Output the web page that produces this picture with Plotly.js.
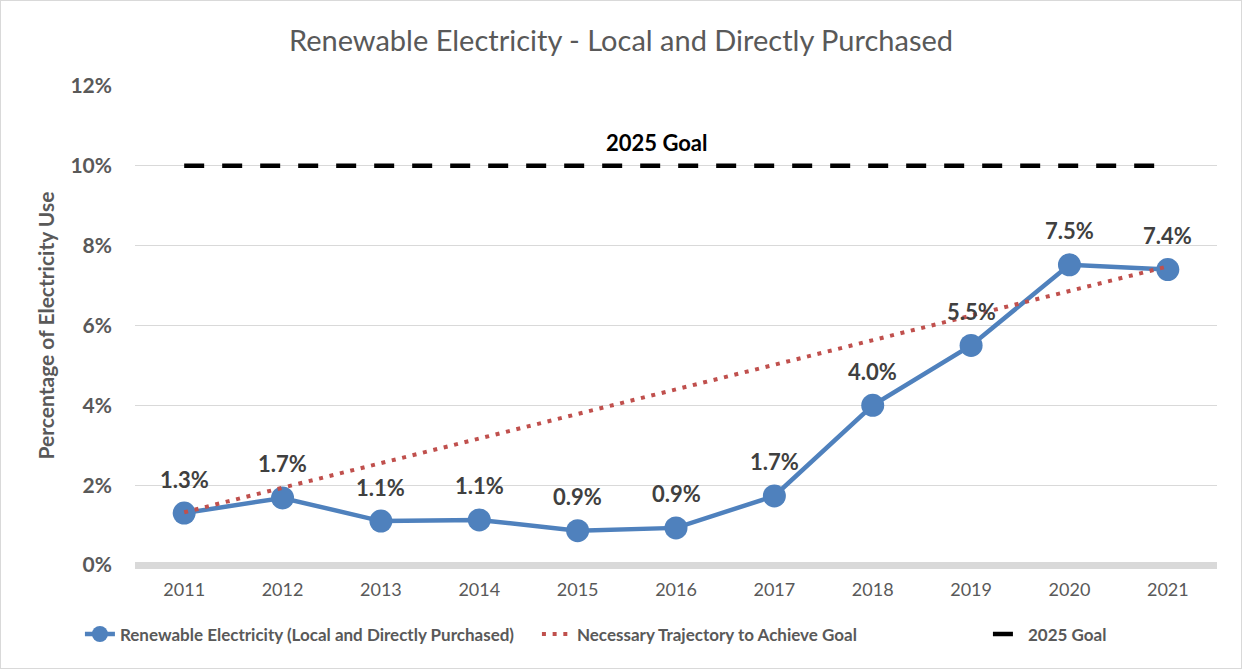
<!DOCTYPE html>
<html>
<head>
<meta charset="utf-8">
<script src="https://cdn.plot.ly/plotly-3.0.1.min.js"></script>
<style>
html,body{margin:0;padding:0;background:#fff;}
#chart{width:1240px;height:667px;border:1px solid #d9d9d9;}
</style>
</head>
<body>
<div id="chart"></div>
<script>
const years = ['2011','2012','2013','2014','2015','2016','2017','2018','2019','2020','2021'];
const renewable = [1.3, 1.68, 1.1, 1.13, 0.86, 0.93, 1.73, 4.0, 5.5, 7.52, 7.4];
const renewableLabels = ['1.3%','1.7%','1.1%','1.1%','0.9%','0.9%','1.7%','4.0%','5.5%','7.5%','7.4%'];
const trajectoryYears = ['2011','2021'];
const trajectory = [1.32, 7.48];
const goalYears = ['2011','2021'];
const goal = [10, 10];
const yTicks = [0,2,4,6,8,10,12];
const yTickLabels = ['0%','2%','4%','6%','8%','10%','12%'];

const FONT = 'Lato, "Open Sans", sans-serif';

const traces = [
  {
    x: years, y: renewable, type: 'scatter', mode: 'lines+markers',
    name: 'Renewable Electricity (Local and Directly Purchased)',
    line: {color: '#4f81bd', width: 4.5},
    marker: {color: '#4f81bd', size: 23},
    legendwidth: 412
  },
  {
    x: trajectoryYears, y: trajectory, type: 'scatter', mode: 'lines',
    name: 'Necessary Trajectory to Achieve Goal',
    line: {color: '#c0504d', width: 4, dash: '4px,6.7px'},
    legendwidth: 406
  },
  {
    x: goalYears, y: goal, type: 'scatter', mode: 'lines',
    name: '2025 Goal',
    line: {color: '#000000', width: 4.5, dash: '20px,18px'}
  }
];

const labelAnnotations = years.map((yr, i) => ({
  x: i, y: renewable[i], xref: 'x', yref: 'y', yshift: 34,
  text: renewableLabels[i], showarrow: false,
  font: {family: FONT, size: 22, color: '#404040', weight: 'bold'}
}));

const layout = {
  width: 1240, height: 667,
  margin: {l: 134, r: 24, t: 85, b: 103},
  paper_bgcolor: '#ffffff', plot_bgcolor: '#ffffff',
  font: {family: FONT, color: '#595959'},
  title: {text: 'Renewable Electricity - Local and Directly Purchased', x: 0.5, xanchor: 'center', y: 0.94, yanchor: 'middle',
          font: {family: FONT, size: 29, color: '#595959'}},
  xaxis: {
    type: 'category', range: [-0.5, 10.5], showgrid: false, zeroline: false, showline: false,
    ticks: '', tickfont: {family: FONT, size: 18, color: '#595959'},
    ticklabelstandoff: 12, automargin: false
  },
  yaxis: {
    range: [0, 12], tickvals: yTicks, ticktext: yTickLabels,
    showgrid: true, gridcolor: '#d9d9d9', gridwidth: 1.3,
    zeroline: true, zerolinecolor: '#d9d9d9', zerolinewidth: 7,
    showline: false, ticks: '',
    tickfont: {family: FONT, size: 21, color: '#595959', weight: 'bold'},
    ticklabelstandoff: 22, automargin: false,
    title: {text: 'Percentage of Electricity Use', font: {family: FONT, size: 21, color: '#595959', weight: 'bold'}, standoff: 10}
  },
  legend: {
    orientation: 'h', x: 0.426, xanchor: 'center', y: -0.145, yanchor: 'middle',
    font: {family: FONT, size: 17, color: '#595959', weight: 'bold'},
    itemwidth: 30
  },
  annotations: [
    {text: '2025 Goal', xref: 'paper', yref: 'y', x: 0.482, y: 10, yshift: 23,
     showarrow: false, font: {family: FONT, size: 22, color: '#000000', weight: 'bold'}}
  ].concat(labelAnnotations),
  showlegend: true
};

Plotly.newPlot('chart', traces, layout, {displayModeBar: false, staticPlot: true});
</script>
</body>
</html>
